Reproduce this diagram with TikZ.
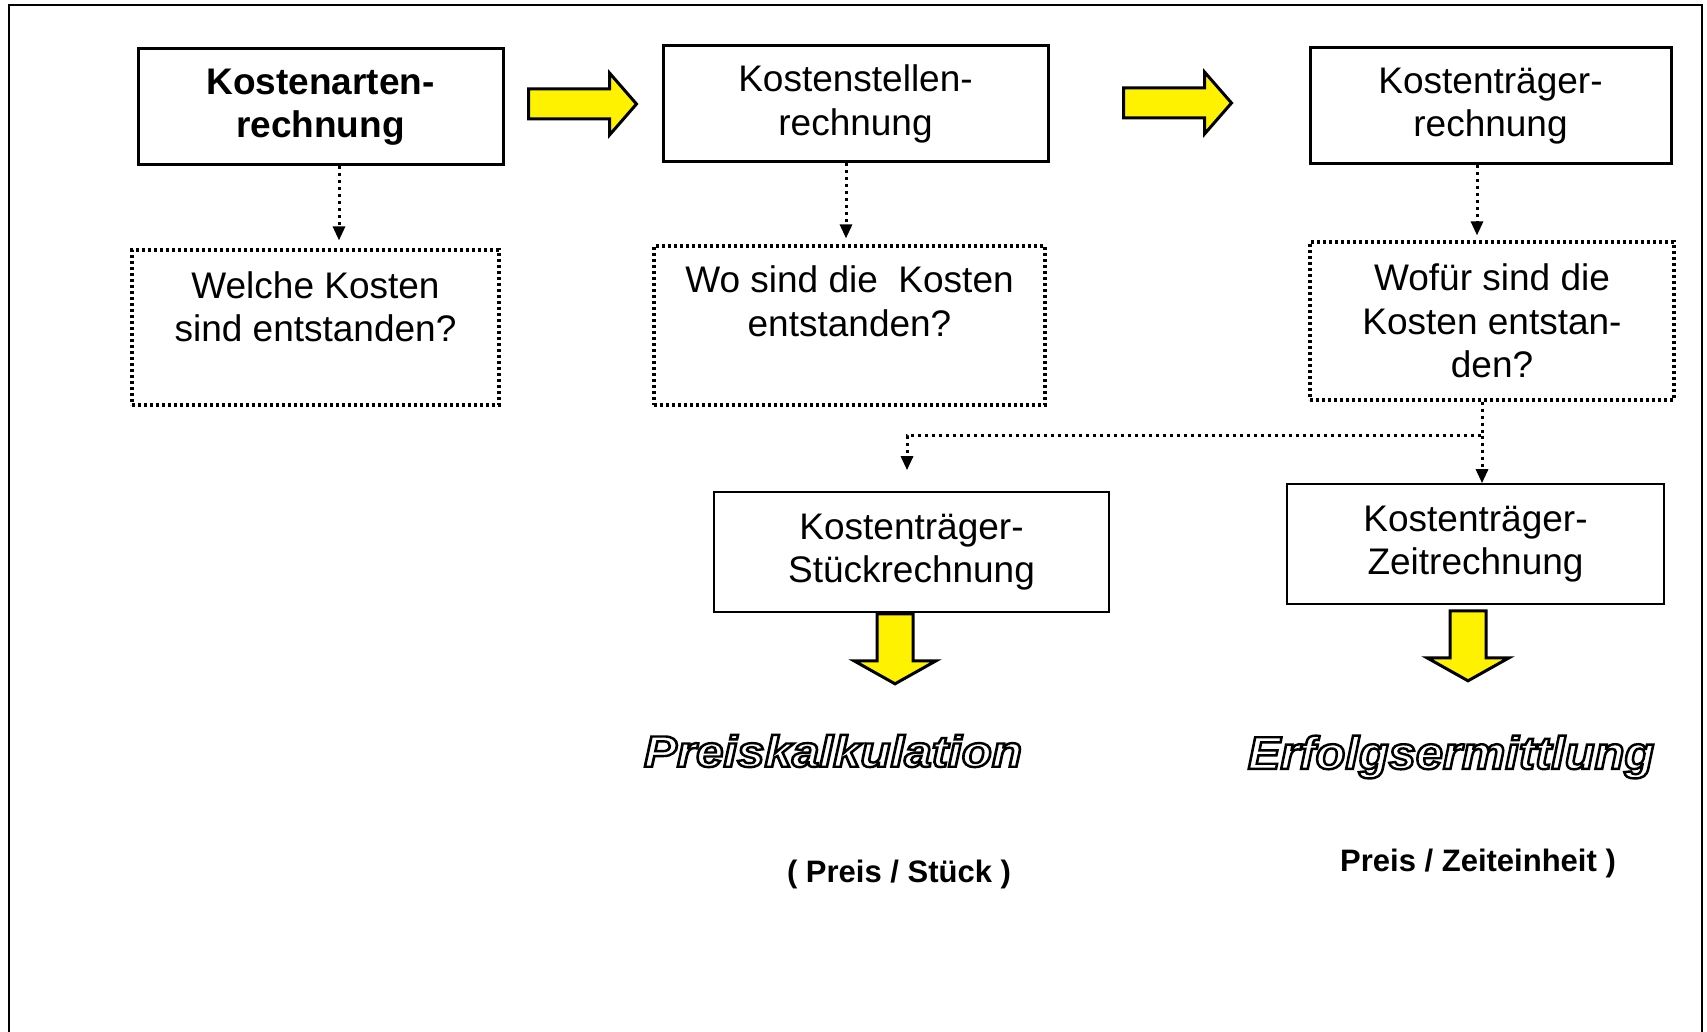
\documentclass[tikz,border=0pt]{standalone}
\usepackage{fontspec}
\setmainfont{Liberation Sans}
\usetikzlibrary{arrows.meta,calc}
\newcommand\outlinetext[1]{\special{pdf:code q 2 Tr 2.4 w 0 0 0 RG}#1\special{pdf:code Q}}
\tikzset{
  txt/.style={font=\fontsize{37}{43.5}\selectfont},
  box/.style={draw, line width=3pt, align=center, inner sep=0pt, txt},
  thinbox/.style={box, line width=1.6pt},
  dotbox/.style={draw, line width=3.2pt, dash pattern=on 3pt off 3pt, align=center, inner sep=0pt, txt},
  dotarr/.style={line width=3pt, dash pattern=on 3pt off 4pt, -{Triangle[length=14pt,width=12pt]}},
  rblock/.pic={\draw[line width=3pt, fill=yellow, line join=miter] (0,-15) -- (81,-15) -- (81,-31) -- (108,0) -- (81,31) -- (81,15) -- (0,15) -- cycle;},
  dblock/.pic={\draw[line width=3pt, fill=yellow, line join=miter] (-18,0) -- (-18,47) -- (-41,47) -- (0,70) -- (41,47) -- (18,47) -- (18,0) -- cycle;},
  outl/.style={text=white, inner sep=0pt},
  lbl/.style={inner sep=0pt, font=\fontsize{31}{36}\selectfont\bfseries}
}
\begin{document}
\begin{tikzpicture}[x=1pt,y=-1pt]
\useasboundingbox (0,0) rectangle (1707,1032);
\draw[line width=2pt] (9,1032) -- (9,5) -- (1702,5) -- (1702,1032);

\node[box, minimum width=365pt, minimum height=116pt, font=\fontsize{37}{43.5}\selectfont\bfseries] (k1) at (320.5,107) {Kostenarten-\\rechnung};
\node[box, minimum width=385pt, minimum height=116pt] (k2) at (855.5,104) {Kostenstellen-\\rechnung};
\node[box, minimum width=361pt, minimum height=116pt] (k3) at (1490.5,106) {Kostenträger-\\rechnung};

\node[dotbox, minimum width=367pt, minimum height=155pt] (w1) at (315.5,327.5) {Welche Kosten\\sind entstanden?\\[-15pt]\strut};
\node[dotbox, minimum width=391pt, minimum height=159pt] (w2) at (849.5,325.5) {Wo sind die~~Kosten\\entstanden?\\[-8pt]\strut};
\node[dotbox, minimum width=364pt, minimum height=158pt] (w3) at (1492,321) {Wofür sind die\\Kosten entstan-\\den?};

\node[thinbox, minimum width=395pt, minimum height=120pt] (s1) at (911.5,552) {Kostenträger-\\Stückrechnung};
\node[thinbox, minimum width=377pt, minimum height=120pt] (z1) at (1475.5,544) {Kostenträger-\\Zeitrechnung};

\pic at ([xshift=24pt,yshift=3pt]k1.east) {rblock};
\pic at ([xshift=74pt,yshift=1pt]k2.east) {rblock};

\draw[dotarr] ([xshift=18.5pt]k1.south) -- ([xshift=18.5pt,yshift=8pt]k1.south |- w1.north);
\draw[dotarr] ([xshift=-9.5pt]k2.south) -- ([xshift=-9.5pt,yshift=6pt]k2.south |- w2.north);
\draw[dotarr] ([xshift=-13.5pt]k3.south) -- ([xshift=-13.5pt,yshift=5pt]k3.south |- w3.north);

\coordinate (br) at ($(w3.south)+(-10,34)$);
\coordinate (bl) at (br -| 907,0);
\draw[dotarr] ([xshift=-10pt]w3.south) -- (br) -- (bl) -- ([yshift=21pt]bl |- s1.north);
\draw[dotarr] (br) -- (br |- z1.north);

\pic at ([xshift=-16.5pt,yshift=-1pt]s1.south) {dblock};
\pic at ([xshift=-7.5pt,yshift=-6pt]z1.south) {dblock};

\node[outl, font=\fontsize{44}{50}\selectfont\bfseries\itshape] (pk) at (833,751) {\scalebox{1.12}[1]{\outlinetext{Preiskalkulation}}};
\node[outl, font=\fontsize{46}{52}\selectfont\bfseries\itshape] (em) at (1451,757) {\scalebox{1.06}[1]{\outlinetext{Erfolgsermittlung}}};

\node[lbl] (ps) at (899,874) {( Preis / Stück )};
\node[lbl] (pz) at (1478,863) {Preis / Zeiteinheit )};
\end{tikzpicture}
\end{document}
